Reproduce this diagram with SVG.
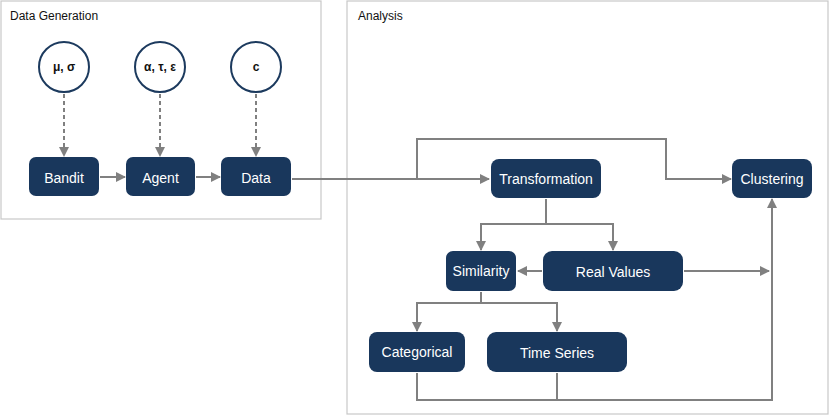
<svg xmlns="http://www.w3.org/2000/svg" width="830" height="415" viewBox="0 0 830 415">
<style>
.panel{fill:#fff;stroke:#c8c8c8;stroke-width:1.2}
.title{font-family:"Liberation Sans",Arial,sans-serif;font-size:12px;fill:#111}
.box{fill:#19375c}
.lbl{font-family:"Liberation Sans",Arial,sans-serif;font-size:14px;fill:#fff;text-anchor:middle}
.circ{fill:#fff;stroke:#1c3a5e;stroke-width:2}
.clbl{font-family:"Liberation Sans",Arial,sans-serif;font-size:12px;font-weight:bold;fill:#111;text-anchor:middle}
.con{fill:none;stroke:#808080;stroke-width:2}
.dash{stroke-dasharray:4 3}
</style>
<defs>
<marker id="ah" markerUnits="userSpaceOnUse" markerWidth="10" markerHeight="10" refX="9" refY="5" orient="auto">
<path d="M0,0 L10,5 L0,10 z" fill="#808080"/>
</marker>
</defs>
<rect class="panel" x="1" y="1" width="320" height="218"/>
<text class="title" x="10" y="20">Data Generation</text>
<rect class="panel" x="347" y="1" width="481" height="413"/>
<text class="title" x="358" y="20">Analysis</text>

<g id="connectors">
<path class="con dash" d="M64,94 V156" marker-end="url(#ah)"/>
<path class="con dash" d="M160,94 V156" marker-end="url(#ah)"/>
<path class="con dash" d="M256,94 V156" marker-end="url(#ah)"/>
<path class="con" d="M100,177 H125" marker-end="url(#ah)"/>
<path class="con" d="M196,177 H220" marker-end="url(#ah)"/>
<path class="con" d="M292,179 H489" marker-end="url(#ah)"/>
<path class="con" d="M417,179 V139 H666 V179 H731" marker-end="url(#ah)"/>
<path class="con" d="M546,199 V224 H481 V250" marker-end="url(#ah)"/>
<path class="con" d="M546,224 H613 V250" marker-end="url(#ah)"/>
<path class="con" d="M542,271 H518" marker-end="url(#ah)"/>
<path class="con" d="M684,271 H769" marker-end="url(#ah)"/>
<path class="con" d="M481,292 V303 H417 V331" marker-end="url(#ah)"/>
<path class="con" d="M481,303 H557 V331" marker-end="url(#ah)"/>
<path class="con" d="M417,373 V400 H772 V199" marker-end="url(#ah)"/>
<path class="con" d="M557,373 V400"/>
</g>

<g id="mu-sigma"><circle class="circ" cx="64" cy="67" r="25"/><text class="clbl" x="64" y="71">μ, σ</text></g>
<g id="alpha-tau-eps"><circle class="circ" cx="160" cy="67" r="25"/><text class="clbl" x="160" y="71">α, τ, ε</text></g>
<g id="c"><circle class="circ" cx="256" cy="67" r="25"/><text class="clbl" x="256" y="71">c</text></g>

<g id="bandit"><rect class="box" x="29" y="157" width="70" height="39" rx="7"/><text class="lbl" x="64" y="183">Bandit</text></g>
<g id="agent"><rect class="box" x="126" y="157" width="69" height="39" rx="7"/><text class="lbl" x="160.5" y="183">Agent</text></g>
<g id="data"><rect class="box" x="221" y="157" width="70" height="39" rx="7"/><text class="lbl" x="256" y="183">Data</text></g>

<g id="transformation"><rect class="box" x="491" y="159" width="110" height="39" rx="8"/><text class="lbl" x="546" y="184">Transformation</text></g>
<g id="clustering"><rect class="box" x="732" y="159" width="80" height="39" rx="8"/><text class="lbl" x="772" y="184">Clustering</text></g>
<g id="similarity"><rect class="box" x="446" y="251" width="70" height="40" rx="7"/><text class="lbl" x="481" y="276">Similarity</text></g>
<g id="real-values"><rect class="box" x="543" y="251" width="140" height="40" rx="9"/><text class="lbl" x="613" y="277">Real Values</text></g>
<g id="categorical"><rect class="box" x="369" y="332" width="96" height="40" rx="8"/><text class="lbl" x="417" y="357">Categorical</text></g>
<g id="time-series"><rect class="box" x="487" y="332" width="140" height="40" rx="9"/><text class="lbl" x="557" y="358">Time Series</text></g>
</svg>
